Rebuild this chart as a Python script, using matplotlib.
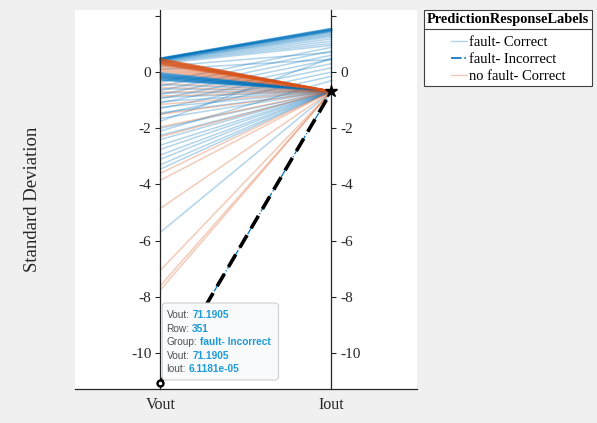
import matplotlib.pyplot as plt
from matplotlib.patches import FancyBboxPatch
from matplotlib.lines import Line2D

plt.rcParams['font.family'] = ['Liberation Serif', 'DejaVu Serif']

coords = ['Vout', 'Iout']

# fault- Correct (standardized values)
fc_vout = [0.50, 0.495, 0.49, 0.485, 0.48, 0.475, 0.47, 0.465, 0.46, 0.455, 0.45, 0.445, 0.44,
           0.43, 0.42, 0.41, 0.40, 0.38, 0.36, 0.34,
           0.30, 0.20, 0.10,
           -0.02, -0.03, -0.05, -0.07, -0.08, -0.10, -0.11, -0.12, -0.14, -0.15, -0.16, -0.18,
           -0.19, -0.20, -0.22, -0.23, -0.25, -0.27, -0.28, -0.30,
           -0.35, -0.50, -0.65, -0.80, -0.95, -1.10, -1.30, -1.50, -1.75, -2.10,
           -0.45, -0.60, -0.75, -0.90, -1.05, -1.25, -1.45, -1.65, -2.00, -2.25, -2.40,
           -2.60, -2.75, -2.95, -3.10, -3.30, -3.45, -5.70]
fc_iout = [1.56, 1.55, 1.54, 1.53, 1.52, 1.51, 1.50, 1.49, 1.48, 1.47, 1.46, 1.44, 1.42,
           1.38, 1.34, 1.30, 1.25, 1.18, 1.10, 1.02,
           0.95, 0.70, 0.45,
           -0.68, -0.68, -0.68, -0.68, -0.68, -0.68, -0.68, -0.68, -0.68, -0.68, -0.68, -0.68,
           -0.68, -0.68, -0.68, -0.68, -0.68, -0.68, -0.68, -0.68,
           0.88, 0.75, 0.60, 0.45, 0.30, 0.15, 0.00, -0.15, 0.50, -0.30,
           -0.68, -0.68, -0.68, -0.68, -0.68, -0.68, -0.68, -0.68, -0.68, -0.68, -0.68,
           -0.68, -0.68, -0.68, -0.68, -0.68, -0.68, -0.68]

# no fault- Correct
nfc_vout = [0.48, 0.47, 0.46, 0.45, 0.44, 0.43, 0.42, 0.41, 0.40, 0.39, 0.38, 0.37, 0.36,
            0.35, 0.34, 0.33, 0.32, 0.31, 0.30, 0.29, 0.28, 0.27, 0.25, 0.22,
            0.18, 0.14, 0.10, 0.06, 0.02,
            -0.40, -0.55, -0.70, -0.85, -1.15, -1.50, -1.95, -2.30, -3.60, -3.85,
            -4.85, -7.05, -7.60, -7.75]
nfc_iout = [-0.68] * len(nfc_vout)

# fault- Incorrect
fi_vout = [-11.06]
fi_iout = [-0.68]

tip_labels = ['Vout:', 'Row:', 'Group:', 'Vout:', 'Iout:']
tip_values = ['71.1905', '351', 'fault- Incorrect', '71.1905', '6.1181e-05']

blue = '#0072BD'
orange = '#D95319'
dark = '#262626'

fig = plt.figure(figsize=(5.97, 4.23), dpi=100, facecolor='#f0f0f0')
ax = fig.add_axes([0.1256, 0.0804, 0.5729, 0.896])
x = [1, 2]

for v, i in zip(fc_vout, fc_iout):
    ax.plot(x, [v, i], color=blue, lw=1.1, alpha=0.3, zorder=2)
for v, i in zip(nfc_vout, nfc_iout):
    ax.plot(x, [v, i], color=orange, lw=1.1, alpha=0.3, zorder=2)

# highlighted (selected) line
ax.plot(x, [fi_vout[0], fi_iout[0]], color=blue, lw=0.9, ls='-.', zorder=4)
ax.plot(x, [fi_vout[0], fi_iout[0]], color='black', lw=2.6, ls=(0, (4, 2.2)), zorder=5)
ax.plot(1, fi_vout[0], 'o', color='black', ms=5, zorder=6)
ax.plot(1, fi_vout[0], 'o', color='white', ms=1.5, zorder=7)
ax.plot(2, fi_iout[0], '*', color='black', ms=9, zorder=6)

ax.set_xlim(0.5, 2.5)
ax.set_ylim(-11.28, 2.21)
ax.set_facecolor('white')

ax.spines['left'].set_position(('data', 1))
ax.spines['right'].set_position(('data', 2))
ax.spines['top'].set_visible(False)
for s in ['left', 'right', 'bottom']:
    ax.spines[s].set_color(dark)
    ax.spines[s].set_linewidth(0.9)

ax.yaxis.set_ticks_position('both')
ax.set_yticks(range(-10, 3, 2))
ax.set_yticklabels([str(t) if t < 2 else '' for t in range(-10, 3, 2)])
ax.tick_params(axis='y', direction='out', length=3.5, width=0.8, colors=dark,
               labelleft=True, labelright=True, labelsize=11, pad=3)
ax.set_xticks(x)
ax.set_xticklabels(coords)
ax.tick_params(axis='x', length=0, labelsize=11.5, colors=dark, pad=6)

ax.set_ylabel('Standard Deviation', fontsize=13.5, color=dark)
ax.yaxis.set_label_coords(-0.10, 0.5)

# data tip
tip = FancyBboxPatch((1.01, -10.96), 0.68, 2.74,
                     boxstyle='round,pad=0,rounding_size=0.018', mutation_aspect=6.05,
                     facecolor='#f9fafb', edgecolor='#cfcfcf', lw=0.8, zorder=8)
ax.add_patch(tip)
rows_y = [-8.65, -9.15, -9.61, -10.11, -10.57]
for lab, val, yy in zip(tip_labels, tip_values, rows_y):
    t = ax.text(1.035, yy, lab, family='Liberation Sans', fontsize=7.3, color='#505050',
                va='center', ha='left', zorder=9)
    ax.annotate(val, xy=(1, 0.5), xycoords=t, xytext=(2, 0), textcoords='offset points',
                family='Liberation Sans', fontsize=7.3, fontweight='bold', color='#1f9ad8',
                va='center', ha='left', zorder=9)

# legend
handles = [Line2D([], [], color=blue, lw=1, alpha=0.3),
           Line2D([], [], color=blue, lw=1.2, ls='-.'),
           Line2D([], [], color=orange, lw=1, alpha=0.3)]
labels = ['fault- Correct', 'fault- Incorrect', 'no fault- Correct']
leg = fig.legend(handles, labels, loc='upper left', bbox_to_anchor=(424 / 597, 1 - 10 / 423),
                 title='PredictionResponseLabels',
                 title_fontproperties={'weight': 'bold', 'size': 10.4, 'family': 'Liberation Serif'},
                 fontsize=10.5, frameon=True, fancybox=False, edgecolor='#404040', framealpha=1,
                 handlelength=1.1, handletextpad=0.15, borderpad=0.2, labelspacing=0.28,
                 borderaxespad=0, alignment='center')
leg.get_frame().set_linewidth(0.8)
leg._legend_box.sep = 7

fig.canvas.draw()
r = fig.canvas.get_renderer()
fb = leg.get_frame().get_window_extent(r)
tb = leg.get_title().get_window_extent(r)
ysep = tb.y0 - 3
inv = fig.transFigure.inverted()
(x0, y0), (x1, _) = inv.transform([(fb.x0, ysep), (fb.x1, ysep)])
fig.add_artist(Line2D([x0, x1], [y0, y0], color='#404040', lw=0.8,
                      transform=fig.transFigure, zorder=10))

fig.savefig('out.png', dpi=100, facecolor=fig.get_facecolor())
